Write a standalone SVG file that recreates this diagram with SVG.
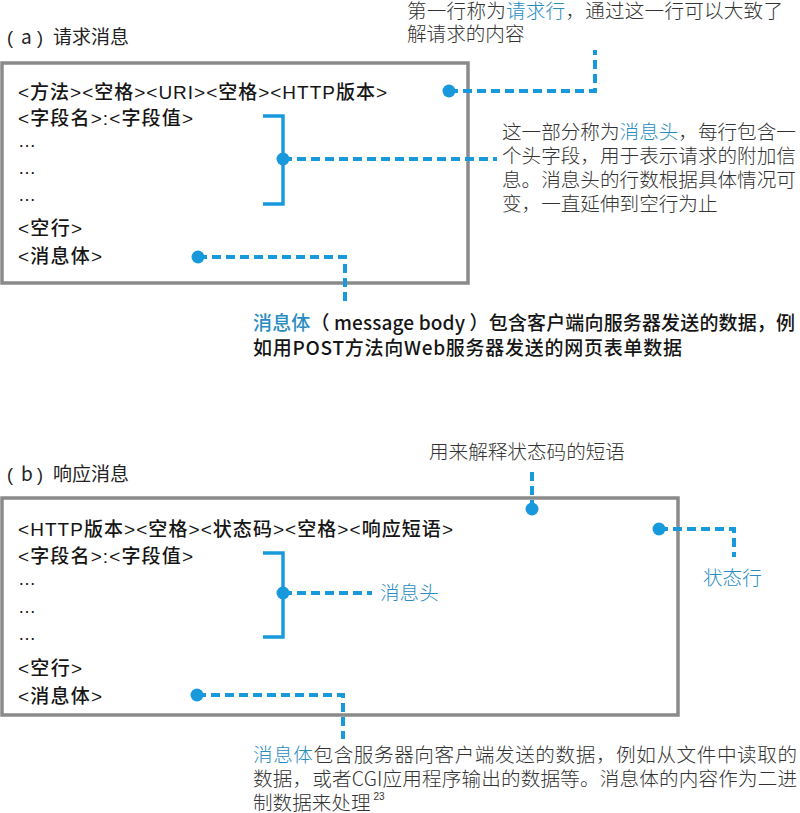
<svg xmlns="http://www.w3.org/2000/svg" width="800" height="813" viewBox="0 0 800 813">
<style>
.box{fill:#fff;stroke:#8a8a8a;stroke-width:3.5}
.code{font-family:"Liberation Sans","Noto Sans CJK SC",sans-serif;font-size:19px;font-weight:500;fill:#151515}
.dots{font-family:"Liberation Sans",sans-serif;font-size:18px;fill:#151515}
.title{font-family:"Noto Sans CJK SC",sans-serif;font-size:19px;fill:#222}
.paren{font-family:"Liberation Sans",sans-serif;font-size:18px;fill:#222}
.note{font-family:"Noto Sans CJK SC",sans-serif;font-size:19.6px;fill:#333;font-weight:300}
.bold{font-family:"Noto Sans CJK SC",sans-serif;font-size:19px;font-weight:500;fill:#151515}
.blue{fill:#2a8dc2}
.brk{fill:none;stroke:#1799dc;stroke-width:3.4}
.dash{fill:none;stroke:#1799dc;stroke-width:4;stroke-dasharray:9 5}
.dot{fill:#1799dc}
</style>

<!-- (a) request message -->
<g id="title-a"><text class="title" y="44"><tspan class="paren" x="7">(</tspan><tspan x="21">a</tspan><tspan class="paren" x="37">)</tspan><tspan x="53">请求消息</tspan></text></g>

<g id="request-box">
<rect class="box" x="2" y="63" width="466" height="220"/>
<text class="code" x="18" y="99" textLength="369" lengthAdjust="spacing">&lt;方法&gt;&lt;空格&gt;&lt;URI&gt;&lt;空格&gt;&lt;HTTP版本&gt;</text>
<text class="code" x="18" y="125" textLength="175" lengthAdjust="spacing">&lt;字段名&gt;:&lt;字段值&gt;</text>
<text class="dots" x="18" y="147">…</text>
<text class="dots" x="18" y="174">…</text>
<text class="dots" x="18" y="201">…</text>
<text class="code" x="18" y="235" textLength="64" lengthAdjust="spacing">&lt;空行&gt;</text>
<text class="code" x="18" y="263" textLength="84" lengthAdjust="spacing">&lt;消息体&gt;</text>
<path class="brk" d="M263,116 H283 V204 H263"/>
</g>

<g id="note-request-line">
<text class="note" x="407" y="18" textLength="376" lengthAdjust="spacing">第一行称为<tspan class="blue">请求行</tspan>，通过这一行可以大致了</text>
<text class="note" x="407" y="41">解请求的内容</text>
</g>

<g id="note-headers-a">
<text class="note" x="502" y="139">这一部分称为<tspan class="blue">消息头</tspan>，每行包含一</text>
<text class="note" x="502" y="163">个头字段，用于表示请求的附加信</text>
<text class="note" x="502" y="187">息。消息头的行数根据具体情况可</text>
<text class="note" x="502" y="211">变，一直延伸到空行为止</text>
</g>

<g id="note-body-a">
<text class="bold" x="253" y="330" textLength="542" lengthAdjust="spacing"><tspan class="blue">消息体</tspan>（ message body ）包含客户端向服务器发送的数据，例</text>
<text class="bold" x="253" y="355" textLength="429" lengthAdjust="spacing">如用POST方法向Web服务器发送的网页表单数据</text>
</g>

<!-- (b) response message -->
<g id="title-b"><text class="title" y="481"><tspan class="paren" x="7">(</tspan><tspan x="21">b</tspan><tspan class="paren" x="37">)</tspan><tspan x="53">响应消息</tspan></text></g>

<g id="response-box">
<rect class="box" x="2" y="498" width="676" height="217"/>
<text class="code" x="18" y="536" textLength="435" lengthAdjust="spacing">&lt;HTTP版本&gt;&lt;空格&gt;&lt;状态码&gt;&lt;空格&gt;&lt;响应短语&gt;</text>
<text class="code" x="18" y="563" textLength="175" lengthAdjust="spacing">&lt;字段名&gt;:&lt;字段值&gt;</text>
<text class="dots" x="18" y="585">…</text>
<text class="dots" x="18" y="613">…</text>
<text class="dots" x="18" y="640">…</text>
<text class="code" x="18" y="675" textLength="64" lengthAdjust="spacing">&lt;空行&gt;</text>
<text class="code" x="18" y="703" textLength="84" lengthAdjust="spacing">&lt;消息体&gt;</text>
<path class="brk" d="M263,553 H283 V637 H263"/>
</g>

<g id="note-phrase"><text class="note" x="429" y="459">用来解释状态码的短语</text></g>
<g id="note-status-line"><text class="note blue" x="703" y="585">状态行</text></g>
<g id="note-headers-b"><text class="note blue" x="380" y="600">消息头</text></g>

<g id="note-body-b">
<text class="note" x="253" y="762" textLength="544" lengthAdjust="spacing"><tspan class="blue">消息体</tspan>包含服务器向客户端发送的数据，例如从文件中读取的</text>
<text class="note" x="253" y="786" textLength="544" lengthAdjust="spacing">数据，或者CGI应用程序输出的数据等。消息体的内容作为二进</text>
<text class="note" x="253" y="810">制数据来处理<tspan font-size="10" dy="-10" dx="3" font-family="Liberation Sans,sans-serif">23</tspan></text>
</g>

<g id="connectors">
<path class="dash" d="M449,91 H595 V50"/>
<circle class="dot" cx="449" cy="91" r="6.5"/>
<path class="dash" d="M283,159 H497"/>
<circle class="dot" cx="283" cy="159" r="6.5"/>
<path class="dash" d="M198,257 H345 V301"/>
<circle class="dot" cx="198" cy="257" r="6.5"/>
<path class="dash" d="M532,509 V470"/>
<circle class="dot" cx="532" cy="509" r="6.5"/>
<path class="dash" d="M659,529 H734 V557"/>
<circle class="dot" cx="659" cy="529" r="6.5"/>
<path class="dash" d="M283,593 H372"/>
<circle class="dot" cx="283" cy="593" r="6.5"/>
<path class="dash" d="M197,695 H343 V739"/>
<circle class="dot" cx="197" cy="695" r="6.5"/>
</g>
</svg>
